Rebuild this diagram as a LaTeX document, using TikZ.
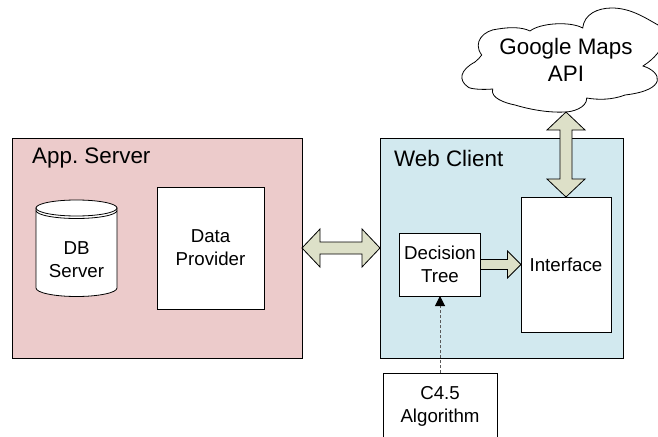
\documentclass[tikz,border=0pt]{standalone}
\usepackage{fontspec}
\setmainfont{Liberation Sans}
\usetikzlibrary{calc,positioning,arrows.meta}
\definecolor{serverpink}{HTML}{ECCBCB}
\definecolor{clientblue}{HTML}{D2E9EF}
\definecolor{arrowolive}{HTML}{DDE0C8}
\frenchspacing
\newcommand\bigfont{\fontsize{22.4}{27}\selectfont}
\newcommand\boxfont{\fontsize{18.7}{23}\selectfont}
\tikzset{
  panel/.style={draw=black, line width=0.8pt, outer sep=0, inner sep=0},
  whitebox/.style={panel, fill=white, align=center, font=\boxfont},
  paneltitle/.style={anchor=west, inner sep=0, font=\bigfont},
  fatboth/.style={draw=black, fill=arrowolive, line width=0.8pt, to path={
    -- ($(\tikztostart)!18pt!(\tikztotarget)!19pt!90:(\tikztotarget)$)
    -- ($(\tikztostart)!18pt!(\tikztotarget)!6pt!90:(\tikztotarget)$)
    -- ($(\tikztotarget)!18pt!(\tikztostart)!6pt!-90:(\tikztostart)$)
    -- ($(\tikztotarget)!18pt!(\tikztostart)!19pt!-90:(\tikztostart)$)
    -- (\tikztotarget)
    -- ($(\tikztotarget)!18pt!(\tikztostart)!19pt!90:(\tikztostart)$)
    -- ($(\tikztotarget)!18pt!(\tikztostart)!6pt!90:(\tikztostart)$)
    -- ($(\tikztostart)!18pt!(\tikztotarget)!6pt!-90:(\tikztotarget)$)
    -- ($(\tikztostart)!18pt!(\tikztotarget)!19pt!-90:(\tikztotarget)$)
    -- cycle}},
  fatright/.style={draw=black, fill=arrowolive, line width=0.8pt, to path={
    ($(\tikztostart)!5pt!90:(\tikztotarget)$)
    -- ($(\tikztotarget)!13.5pt!(\tikztostart)!5pt!-90:(\tikztostart)$)
    -- ($(\tikztotarget)!13.5pt!(\tikztostart)!13.5pt!-90:(\tikztostart)$)
    -- (\tikztotarget)
    -- ($(\tikztotarget)!13.5pt!(\tikztostart)!13.5pt!90:(\tikztostart)$)
    -- ($(\tikztotarget)!13.5pt!(\tikztostart)!5pt!90:(\tikztostart)$)
    -- ($(\tikztostart)!5pt!-90:(\tikztotarget)$)
    -- cycle}},
}

\begin{document}
\begin{tikzpicture}[x=1pt,y=-1pt]
\useasboundingbox (0,0) rectangle (658,436);

% Panels
\node (server) [panel, fill=serverpink, minimum width=290pt, minimum height=220pt] at (157,248) {};
\node (client) [panel, fill=clientblue, minimum width=243pt, minimum height=220pt] at (501.5,248) {};
\node (servertitle) [paneltitle] at (32,158) {App. Server};
\node (clienttitle) [paneltitle] at (394,158) {Web Client};

% DB cylinder
\draw [panel, fill=white] (36,208) -- (36,288) arc [start angle=180, end angle=360, x radius=40.5pt, y radius=8.5pt] -- (117,208) -- cycle;
\draw [panel, fill=white] (76.5,208) ellipse [x radius=40.5pt, y radius=8pt];
\draw [panel] (36,210.5) arc [start angle=180, end angle=360, x radius=40.5pt, y radius=8pt];
\node (dbserver) [align=center, inner sep=0, font=\boxfont] at (76.5,260) {DB\\Server};

% Boxes
\node (provider) [whitebox, minimum width=107pt, minimum height=122pt] at (210.5,248) {Data\\Provider};
\node (decision) [whitebox, minimum width=81pt, minimum height=63pt] at (440,264.5) {Decision\\Tree};
\node (interface) [whitebox, minimum width=90pt, minimum height=135pt] at (566,264.5) {Interface};
\node (algorithm) [whitebox, minimum width=114pt, minimum height=66pt] at (440,406) {C4.5\\Algorithm};

% Cloud
\draw [panel, fill=white]
  (481.7,55) .. controls (472,42) and (484,30) .. (498,29)
  .. controls (510,27) and (522,27) .. (530,31)
  .. controls (540,23) and (570,21) .. (582.7,28)
  .. controls (584,14) and (598,8) .. (611.7,8)
  .. controls (630,8) and (644,17) .. (658,25)
  .. controls (668,30) and (668,50) .. (643,66)
  .. controls (662,72) and (668,90) .. (625,95)
  .. controls (612,100) and (598,100) .. (586.7,98)
  .. controls (587,108) and (572,112) .. (565,112)
  .. controls (545,113) and (525,108) .. (515,105)
  .. controls (505,103) and (490,98) .. (492.7,89)
  .. controls (482,90) and (470,89) .. (468,87)
  .. controls (458,80) and (460,70) .. (475,62)
  .. controls (478,60) and (480,57) .. (481.7,55) -- cycle;
\node (api) [align=center, inner sep=0, font=\fontsize{22.4}{26.5}\selectfont] at (566,60) {Google Maps\\API};
\coordinate (apifoot) at (566,112);

% Connectors
\draw [fatboth] (server.east) to (client.west);
\draw [fatboth] (apifoot) to (interface.north);
\draw [fatright] (decision.east) to (interface.west);
\draw [black!65, line width=1pt, densely dashed, -{Triangle[black, width=10pt, length=10pt]}] (algorithm.north) -- (decision.south);

\end{tikzpicture}
\end{document}
